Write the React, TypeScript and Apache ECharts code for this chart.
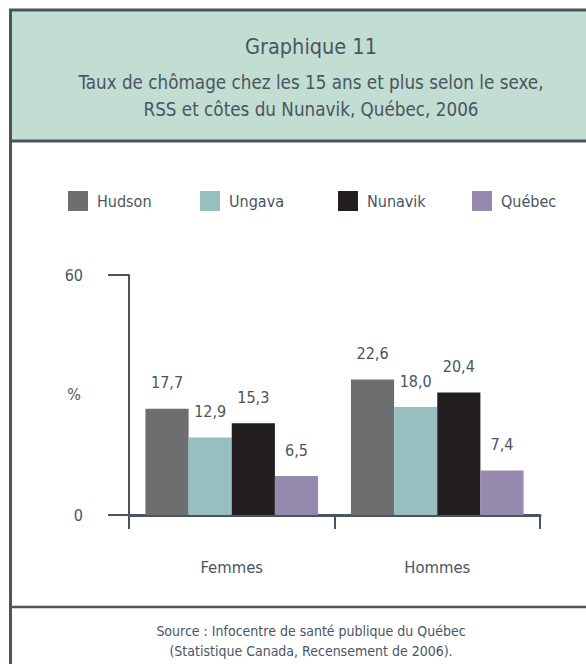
import React, { useEffect, useRef } from "react";
import * as echarts from "echarts";

const categories = ["Femmes", "Hommes"];
const seriesNames = ["Hudson", "Ungava", "Nunavik", "Québec"];
const hudson = [17.7, 22.6];
const ungava = [12.9, 18.0];
const nunavik = [15.3, 20.4];
const quebec = [6.5, 7.4];
const yTickLabels = ["0", "60"];
const yAxisTitle = "%";

const seriesValues = [hudson, ungava, nunavik, quebec];
const colors = ["#6d6e70", "#97bfc0", "#231f20", "#9589ad"];
const legendLeft = [63, 195, 333, 467];

const FONT = "'Liberation Sans Narrow', 'DejaVu Sans Condensed', 'Roboto', sans-serif";
const TXT = "#4a5560";
const LINE = "#4a5560";

export default function App() {
  const ref = useRef<HTMLDivElement>(null);
  useEffect(() => {
    const chart = echarts.init(ref.current!, null, { renderer: "svg" });
    const fmt = (v: number) => v.toFixed(1).replace(".", ",");
    chart.setOption({
      animation: false,
      backgroundColor: "#ffffff",
      textStyle: { fontFamily: FONT, color: TXT },
      graphic: [
        {
          type: "rect",
          z: -10,
          shape: { x: 10.5, y: 10, width: 620, height: 131 },
          style: { fill: "#c2ddd1", stroke: LINE, lineWidth: 3 },
        },
        {
          type: "line",
          z: -10,
          shape: { x1: 10.5, y1: 10, x2: 10.5, y2: 670 },
          style: { stroke: LINE, lineWidth: 3 },
        },
        {
          type: "line",
          z: -10,
          shape: { x1: 10, y1: 607, x2: 600, y2: 607 },
          style: { stroke: LINE, lineWidth: 2.5 },
        },
        {
          type: "text",
          x: 81,
          y: 394,
          style: {
            text: yAxisTitle,
            fontFamily: FONT,
            fontSize: 16,
            fill: TXT,
            align: "right",
            verticalAlign: "middle",
          },
        },
      ],
      title: [
        {
          text: "Graphique 11",
          left: 306,
          top: 30,
          textAlign: "center",
          textStyle: { fontFamily: FONT, fontSize: 21.5, fontWeight: "normal", color: TXT },
        },
        {
          text: "Taux de chômage chez les 15 ans et plus selon le sexe,\nRSS et côtes du Nunavik, Québec, 2006",
          left: 306,
          top: 64,
          textAlign: "center",
          textStyle: { fontFamily: FONT, fontSize: 18.7, fontWeight: "normal", color: TXT, lineHeight: 27 },
        },
        {
          text: "Source : Infocentre de santé publique du Québec\n(Statistique Canada, Recensement de 2006).",
          left: 306,
          top: 616,
          textAlign: "center",
          textStyle: { fontFamily: FONT, fontSize: 14, fontWeight: "normal", color: TXT, lineHeight: 20 },
        },
      ],
      legend: seriesNames.map((n, i) => ({
        data: [n],
        left: legendLeft[i],
        top: 186,
        itemWidth: 20,
        itemHeight: 20,
        icon: "rect",
        selectedMode: false,
        textStyle: { fontFamily: FONT, fontSize: 16, color: TXT, padding: [0, 0, 0, 4] },
      })),
      grid: { left: 129, right: 46, top: 275, bottom: 149, containLabel: false },
      xAxis: {
        type: "category",
        data: categories,
        axisLine: { show: true, lineStyle: { color: LINE, width: 3 } },
        axisTick: { show: true, length: 14, lineStyle: { color: LINE, width: 2 } },
        axisLabel: { margin: 44, fontSize: 16.5, color: TXT, fontFamily: FONT },
      },
      yAxis: {
        type: "value",
        min: 0,
        max: 40,
        interval: 40,
        splitLine: { show: false },
        axisLine: { show: true, lineStyle: { color: LINE, width: 2 } },
        axisTick: { show: true, length: 21, lineStyle: { color: LINE, width: 2 } },
        axisLabel: {
          margin: 46,
          fontSize: 16,
          color: TXT,
          fontFamily: FONT,
          formatter: (_v: number, i: number) => yTickLabels[i] ?? "",
        },
      },
      series: seriesNames.map((n, i) => ({
        type: "bar",
        name: n,
        data: seriesValues[i],
        itemStyle: { color: colors[i] },
        barGap: "0%",
        barCategoryGap: "16%",
        label: {
          show: true,
          position: "top",
          distance: 18,
          fontSize: 16,
          color: TXT,
          fontFamily: FONT,
          formatter: (p: any) => fmt(p.value),
        },
      })),
    });
    return () => chart.dispose();
  }, []);
  return (
    <div style={{ position: "fixed", left: 0, top: 0, width: 586, height: 664 }}>
      <div ref={ref} style={{ width: 586, height: 664 }} />
    </div>
  );
}
